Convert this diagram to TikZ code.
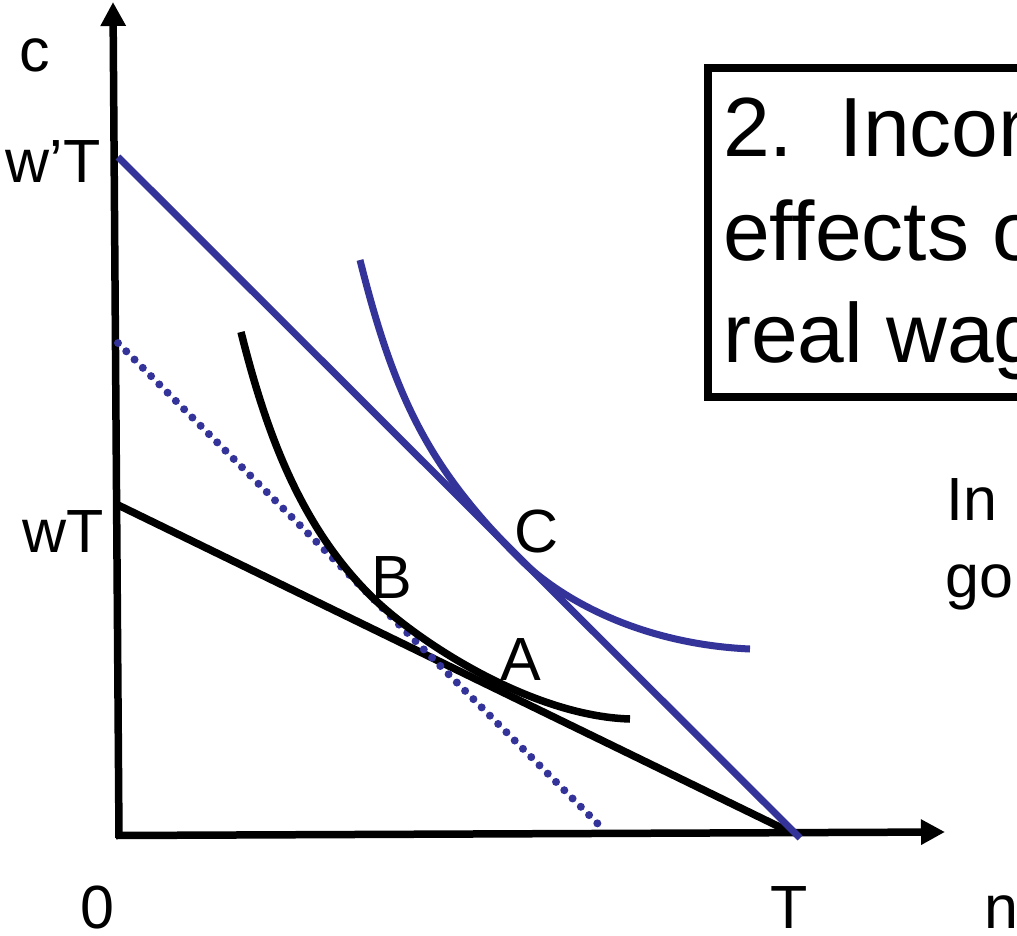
\documentclass[tikz,border=0pt]{standalone}
\usepackage{fontspec}
\setmainfont{Liberation Sans}
\usetikzlibrary{arrows.meta}
\definecolor{bl}{RGB}{51,51,153}
\begin{document}
\begin{tikzpicture}[x=1pt,y=-1pt,
  lbl/.style={inner sep=0pt,font=\fontsize{61}{70}\selectfont},
  ttl/.style={inner sep=0pt,font=\fontsize{84}{100}\selectfont},
  axis/.style={line width=7.5pt,-{Triangle[width=24pt,length=24pt]}},
  blk/.style={line width=7.5pt,black},
  blu/.style={line width=7pt,bl},
  dots/.style={line width=8pt,bl,line cap=round,dash pattern=on 0pt off 11.7pt}]
\useasboundingbox (0,0) rectangle (1017,936);
\clip (0,0) rectangle (1017,936);
% axes
\coordinate (O) at (119,838);
\coordinate (ctop) at (113,2);
\coordinate (O2) at (116,835.5);
\coordinate (nend) at (945,832);
\draw[axis] (O) -- (ctop);
\draw[axis] (O2) -- (nend);
% budget lines
\coordinate (wT) at (118,505);
\coordinate (T) at (790,832);
\coordinate (wpT) at (118,157);
\coordinate (Tb) at (800,838);
\coordinate (dS) at (118,343);
\coordinate (dE) at (604,830);
\draw[blk] (wT) -- (T);
\draw[dots] (dS) -- (dE);
\draw[blu] (wpT) -- (Tb);
% indifference curves
\coordinate (B) at (370,595);
\coordinate (C) at (520,559);
\draw[blk] (241,332) .. controls (266,432) and (300,525) .. (B)
                     .. controls (415,640) and (530,716) .. (630,719);
\draw[blu] (360,260) .. controls (395,400) and (430,469) .. (C)
                     .. controls (560,599) and (640,644) .. (750,649);
% title box
\node[draw,line width=8pt,minimum width=400pt,minimum height=328pt,anchor=north west,inner sep=0pt] (box) at (704,64.5) {};
\node[ttl,anchor=base west] (t1) at (723,157) {2.\ \ Incom};
\node[ttl,anchor=base west] (t2) at (723,260) {effects o};
\node[ttl,anchor=base west] (t3) at (723,362) {real wag};
% labels
\node[lbl,anchor=base west] (lc) at (19,72) {c};
\node[lbl,anchor=base east] (lwpT) at (101,183) {w’T};
\node[lbl,anchor=base east] (lwT) at (104,552) {wT};
\node[lbl,anchor=base west] (l0) at (80,928) {0};
\node[lbl,anchor=base west] (lT) at (770,928) {T};
\node[lbl,anchor=base west] (ln) at (984,928) {n};
\node[lbl,anchor=base west] (lB) at (371,598) {B};
\node[lbl,anchor=base west] (lA) at (500,680) {A};
\node[lbl,anchor=base west] (lC) at (514,552) {C};
\node[lbl,anchor=base west] (lIn) at (946,520) {In};
\node[lbl,anchor=base west] (lgo) at (945,597) {go};
\end{tikzpicture}
\end{document}
